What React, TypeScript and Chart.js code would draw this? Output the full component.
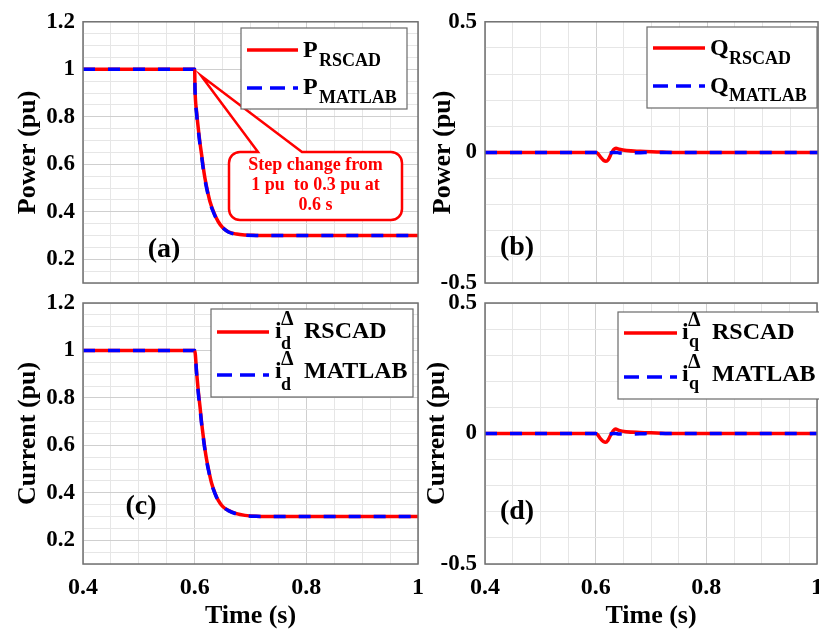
import React, { useEffect, useRef } from 'react';
import { Chart, registerables } from 'chart.js';

Chart.register(...registerables);

const FONT = '"Liberation Serif", "Times New Roman", serif';
const RED = '#ff0000';
const BLUE = '#0000ff';
const GRID_MAJOR = '#cfcfcf';
const GRID_MINOR = '#e6e6e6';
const FRAME = '#707070';

// ---------------- data ----------------
const xMajor = [0.4, 0.6, 0.8, 1.0];
const xTickLabels = ['0.4', '0.6', '0.8', '1'];

const yMajorPU = [0.2, 0.4, 0.6, 0.8, 1.0, 1.2];
const yLabelsPU = ['0.2', '0.4', '0.6', '0.8', '1', '1.2'];
const yMajorQ = [-0.5, 0, 0.5];
const yLabelsQ = ['-0.5', '0', '0.5'];

// (a) active power
const timeP = [0.4, 0.6, 0.6006, 0.6035, 0.6065, 0.6095, 0.6126, 0.6155, 0.6185, 0.623, 0.6275, 0.635, 0.6423, 0.65, 0.6602, 0.675, 0.69, 0.71, 0.73, 1.0];
const pRscad = [1.0, 1.0, 0.92, 0.82, 0.751, 0.69, 0.638, 0.585, 0.54, 0.487, 0.442, 0.393, 0.358, 0.334, 0.316, 0.306, 0.302, 0.3005, 0.3, 0.3];
const pMatlab = [1.0, 1.0, 0.915, 0.812, 0.743, 0.682, 0.630, 0.578, 0.534, 0.482, 0.438, 0.390, 0.356, 0.333, 0.315, 0.305, 0.3015, 0.3003, 0.3, 0.3];

// (b) reactive power
const timeQ = [0.4, 0.6, 0.604, 0.609, 0.614, 0.618, 0.622, 0.628, 0.632, 0.636, 0.642, 0.655, 0.68, 0.71, 0.74, 1.0];
const qRscad = [0, 0, -0.006, -0.02, -0.031, -0.034, -0.028, -0.002, 0.011, 0.016, 0.012, 0.007, 0.004, 0.002, 0, 0];
const qMatlab = [0, 0, -0.001, -0.003, -0.005, -0.004, -0.003, -0.001, 0, 0, -0.002, -0.002, -0.001, 0, 0, 0];

// (c) d-axis current
const timeId = [0.4, 0.6, 0.6037, 0.6066, 0.6096, 0.6125, 0.6155, 0.6185, 0.6216, 0.626, 0.6305, 0.6365, 0.6423, 0.65, 0.6603, 0.675, 0.69, 0.71, 0.73, 1.0];
const idRscad = [1.0, 1.0, 0.902, 0.826, 0.762, 0.695, 0.636, 0.583, 0.537, 0.485, 0.439, 0.398, 0.368, 0.343, 0.326, 0.312, 0.305, 0.301, 0.3, 0.3];
const idMatlab = [1.0, 1.0, 0.895, 0.818, 0.754, 0.688, 0.630, 0.578, 0.532, 0.481, 0.436, 0.396, 0.366, 0.342, 0.325, 0.311, 0.304, 0.3008, 0.3, 0.3];

// (d) q-axis current
const timeIq = [0.4, 0.6, 0.604, 0.609, 0.614, 0.618, 0.622, 0.628, 0.632, 0.636, 0.642, 0.655, 0.68, 0.71, 0.74, 1.0];
const iqRscad = [0, 0, -0.006, -0.021, -0.031, -0.034, -0.027, -0.002, 0.011, 0.017, 0.012, 0.007, 0.004, 0.002, 0, 0];
const iqMatlab = [0, 0, -0.001, -0.003, -0.005, -0.004, -0.003, -0.001, 0, 0, -0.002, -0.002, -0.001, 0, 0, 0];

// ---------------- layout ----------------
const CW = 832;
const CH = 632;

type Part = { text: string; x: number; y: number; size: number };
type LegendRow = { y: number; x1: number; x2: number; color: string; dash: number[]; parts: Part[] };
type PanelDef = {
  id: string;
  L: number; T: number; R: number; B: number; padLeft: number;
  yMin: number; yMax: number; yMajor: number[]; yLabels: string[]; yMinor: number;
  yTitle: string; yTitlePad: number;
  showX: boolean;
  series: { t: number[]; v: number[]; color: string; dash: number[]; order: number }[];
  legendBox: { x: number; y: number; w: number; h: number };
  legendRows: LegendRow[];
  tag: { text: string; x: number; y: number };
  callout: boolean;
};

const SUB = 18;
const MAIN = 24;

const panels: PanelDef[] = [
  {
    id: 'a', L: 83, T: 20, R: 418, B: 283, padLeft: 0,
    yMin: 0.1, yMax: 1.2, yMajor: yMajorPU, yLabels: yLabelsPU, yMinor: 0.05,
    yTitle: 'Power (pu)', yTitlePad: 13,
    showX: false,
    series: [
      { t: timeP, v: pRscad, color: RED, dash: [], order: 1 },
      { t: timeP, v: pMatlab, color: BLUE, dash: [12, 13], order: 0 },
    ],
    legendBox: { x: 241, y: 28, w: 166, h: 81 },
    legendRows: [
      { y: 50, x1: 247, x2: 298, color: RED, dash: [], parts: [
        { text: 'P', x: 303, y: 57, size: MAIN }, { text: 'RSCAD', x: 319, y: 66, size: SUB }] },
      { y: 88, x1: 247, x2: 298, color: BLUE, dash: [15, 8], parts: [
        { text: 'P', x: 303, y: 94, size: MAIN }, { text: 'MATLAB', x: 319, y: 103, size: SUB }] },
    ],
    tag: { text: '(a)', x: 164, y: 250 },
    callout: true,
  },
  {
    id: 'b', L: 485, T: 20, R: 818, B: 283, padLeft: 400,
    yMin: -0.5, yMax: 0.5, yMajor: yMajorQ, yLabels: yLabelsQ, yMinor: 0.1,
    yTitle: 'Power (pu)', yTitlePad: 28,
    showX: false,
    series: [
      { t: timeQ, v: qRscad, color: RED, dash: [], order: 1 },
      { t: timeQ, v: qMatlab, color: BLUE, dash: [12, 13], order: 0 },
    ],
    legendBox: { x: 647, y: 27, w: 170, h: 81 },
    legendRows: [
      { y: 48, x1: 653, x2: 705, color: RED, dash: [], parts: [
        { text: 'Q', x: 710, y: 55, size: MAIN }, { text: 'RSCAD', x: 729, y: 64, size: SUB }] },
      { y: 86, x1: 653, x2: 705, color: BLUE, dash: [15, 8], parts: [
        { text: 'Q', x: 710, y: 93, size: MAIN }, { text: 'MATLAB', x: 729, y: 101, size: SUB }] },
    ],
    tag: { text: '(b)', x: 517, y: 248 },
    callout: false,
  },
  {
    id: 'c', L: 83, T: 303, R: 418, B: 564, padLeft: 0,
    yMin: 0.1, yMax: 1.2, yMajor: yMajorPU, yLabels: yLabelsPU, yMinor: 0.05,
    yTitle: 'Current (pu)', yTitlePad: 13,
    showX: true,
    series: [
      { t: timeId, v: idRscad, color: RED, dash: [], order: 1 },
      { t: timeId, v: idMatlab, color: BLUE, dash: [12, 13], order: 0 },
    ],
    legendBox: { x: 211, y: 309, w: 202, h: 88 },
    legendRows: [
      { y: 332, x1: 217, x2: 269, color: RED, dash: [], parts: [
        { text: 'i', x: 275, y: 338, size: MAIN }, { text: 'Δ', x: 281, y: 325, size: 20 },
        { text: 'd', x: 281, y: 349, size: SUB }, { text: 'RSCAD', x: 304, y: 338, size: MAIN }] },
      { y: 375, x1: 217, x2: 269, color: BLUE, dash: [15, 8], parts: [
        { text: 'i', x: 275, y: 378, size: MAIN }, { text: 'Δ', x: 281, y: 365, size: 20 },
        { text: 'd', x: 281, y: 390, size: SUB }, { text: 'MATLAB', x: 304, y: 378, size: MAIN }] },
    ],
    tag: { text: '(c)', x: 141, y: 507 },
    callout: false,
  },
  {
    id: 'd', L: 485, T: 303, R: 818, B: 564, padLeft: 400,
    yMin: -0.5, yMax: 0.5, yMajor: yMajorQ, yLabels: yLabelsQ, yMinor: 0.1,
    yTitle: 'Current (pu)', yTitlePad: 22,
    showX: true,
    series: [
      { t: timeIq, v: iqRscad, color: RED, dash: [], order: 1 },
      { t: timeIq, v: iqMatlab, color: BLUE, dash: [12, 13], order: 0 },
    ],
    legendBox: { x: 618, y: 312, w: 204, h: 87 },
    legendRows: [
      { y: 333, x1: 624, x2: 677, color: RED, dash: [], parts: [
        { text: 'i', x: 682, y: 339, size: MAIN }, { text: 'Δ', x: 688, y: 326, size: 20 },
        { text: 'q', x: 689, y: 347, size: SUB }, { text: 'RSCAD', x: 712, y: 339, size: MAIN }] },
      { y: 377, x1: 624, x2: 677, color: BLUE, dash: [15, 8], parts: [
        { text: 'i', x: 682, y: 381, size: MAIN }, { text: 'Δ', x: 688, y: 368, size: 20 },
        { text: 'q', x: 689, y: 389, size: SUB }, { text: 'MATLAB', x: 712, y: 381, size: MAIN }] },
    ],
    tag: { text: '(d)', x: 517, y: 512 },
    callout: false,
  },
];

function makeTicks(min: number, max: number, step: number): number[] {
  const out: number[] = [];
  const n = Math.round((max - min) / step);
  for (let i = 0; i <= n; i++) out.push(Math.round((min + i * step) * 1e6) / 1e6);
  return out;
}

function majorIndex(list: number[], v: number): number {
  return list.findIndex((m) => Math.abs(m - v) < 1e-6);
}

function text(ctx: CanvasRenderingContext2D, s: string, x: number, y: number, size: number, color = '#000',
  align: CanvasTextAlign = 'left', baseline: CanvasTextBaseline = 'alphabetic') {
  ctx.font = `bold ${size}px ${FONT}`;
  ctx.fillStyle = color;
  ctx.textAlign = align;
  ctx.textBaseline = baseline;
  ctx.fillText(s, x, y);
}

function Panel({ def }: { def: PanelDef }) {
  const ref = useRef<HTMLCanvasElement | null>(null);
  useEffect(() => {
    const canvas = ref.current;
    if (!canvas) return;
    const xTicks = makeTicks(0.4, 1.0, 0.05);
    const yTicks = makeTicks(def.yMin, def.yMax, def.yMinor);

    const overlay = {
      id: 'overlay' + def.id,
      afterDatasetsDraw(chart: any) {
        const ctx: CanvasRenderingContext2D = chart.ctx;
        const ca = chart.chartArea;
        ctx.save();
        // frame
        ctx.strokeStyle = FRAME;
        ctx.lineWidth = 1.5;
        ctx.setLineDash([]);
        ctx.strokeRect(ca.left, ca.top, ca.right - ca.left, ca.bottom - ca.top);

        // callout
        if (def.callout) {
          const xs = chart.scales.x;
          const ys = chart.scales.y;
          const tipX = xs.getPixelForValue(0.6) + 6.5;
          const tipY = ys.getPixelForValue(1.0) + 6.5;
          const bx = 229, by = 152, bw = 173, bh = 68, r = 11, a = 258, b = 302;
          ctx.beginPath();
          ctx.moveTo(b, by);
          ctx.lineTo(bx + bw - r, by);
          ctx.arcTo(bx + bw, by, bx + bw, by + r, r);
          ctx.lineTo(bx + bw, by + bh - r);
          ctx.arcTo(bx + bw, by + bh, bx + bw - r, by + bh, r);
          ctx.lineTo(bx + r, by + bh);
          ctx.arcTo(bx, by + bh, bx, by + bh - r, r);
          ctx.lineTo(bx, by + r);
          ctx.arcTo(bx, by, bx + r, by, r);
          ctx.lineTo(a, by);
          ctx.lineTo(tipX, tipY);
          ctx.closePath();
          ctx.fillStyle = '#ffffff';
          ctx.fill();
          ctx.strokeStyle = RED;
          ctx.lineWidth = 2.5;
          ctx.lineJoin = 'miter';
          ctx.stroke();
          const cx = bx + bw / 2;
          text(ctx, 'Step change from', cx, 165, 18, RED, 'center', 'middle');
          text(ctx, '1 pu  to 0.3 pu at', cx, 185, 18, RED, 'center', 'middle');
          text(ctx, '0.6 s', cx, 205, 18, RED, 'center', 'middle');
        }

        // legend
        const lb = def.legendBox;
        ctx.fillStyle = '#ffffff';
        ctx.fillRect(lb.x, lb.y, lb.w, lb.h);
        ctx.strokeStyle = '#6a6a6a';
        ctx.lineWidth = 1.2;
        ctx.strokeRect(lb.x, lb.y, lb.w, lb.h);
        for (const row of def.legendRows) {
          ctx.beginPath();
          ctx.setLineDash(row.dash);
          ctx.strokeStyle = row.color;
          ctx.lineWidth = 3.5;
          ctx.lineCap = 'butt';
          ctx.moveTo(row.x1, row.y);
          ctx.lineTo(row.x2, row.y);
          ctx.stroke();
          ctx.setLineDash([]);
          for (const p of row.parts) text(ctx, p.text, p.x, p.y, p.size);
        }

        // panel tag
        text(ctx, def.tag.text, def.tag.x, def.tag.y, 28, '#000', 'center', 'middle');
        ctx.restore();
      },
    };

    const chart = new Chart(canvas, {
      type: 'line',
      data: {
        datasets: def.series.map((s) => ({
          data: s.t.map((t, i) => ({ x: t, y: s.v[i] })),
          borderColor: s.color,
          backgroundColor: s.color,
          borderWidth: 3.5,
          borderDash: s.dash,
          pointRadius: 0,
          fill: false,
          cubicInterpolationMode: 'monotone' as const,
          order: s.order,
        })),
      },
      options: {
        animation: false,
        responsive: false,
        maintainAspectRatio: false,
        events: [],
        layout: { padding: { left: def.padLeft, top: def.T, right: CW - def.R, bottom: 0 } },
        plugins: { legend: { display: false }, tooltip: { enabled: false } },
        scales: {
          x: {
            type: 'linear',
            min: 0.4,
            max: 1.0,
            afterBuildTicks: (scale: any) => { scale.ticks = xTicks.map((v) => ({ value: v })); },
            afterFit: (scale: any) => { scale.height = CH - def.B; },
            ticks: {
              display: def.showX,
              autoSkip: false,
              maxRotation: 0,
              padding: 9,
              color: '#000',
              font: { family: FONT, size: 24, weight: 'bold' },
              callback: (v: any) => { const i = majorIndex(xMajor, Number(v)); return i >= 0 ? xTickLabels[i] : ''; },
            },
            grid: {
              drawTicks: false,
              lineWidth: 1,
              color: (c: any) => (c.tick && majorIndex(xMajor, c.tick.value) >= 0 ? GRID_MAJOR : GRID_MINOR),
            },
            border: { display: false },
            title: {
              display: def.showX,
              text: 'Time (s)',
              color: '#000',
              padding: { top: 0, bottom: 0 },
              font: { family: FONT, size: 26, weight: 'bold' },
            },
          },
          y: {
            type: 'linear',
            min: def.yMin,
            max: def.yMax,
            afterBuildTicks: (scale: any) => { scale.ticks = yTicks.map((v) => ({ value: v })); },
            afterFit: (scale: any) => { scale.width = def.L - def.padLeft; },
            ticks: {
              autoSkip: false,
              padding: 8,
              color: '#000',
              font: { family: FONT, size: 23, weight: 'bold' },
              callback: (v: any) => { const i = majorIndex(def.yMajor, Number(v)); return i >= 0 ? def.yLabels[i] : ''; },
            },
            grid: {
              drawTicks: false,
              lineWidth: 1,
              color: (c: any) => (c.tick && majorIndex(def.yMajor, c.tick.value) >= 0 ? GRID_MAJOR : GRID_MINOR),
            },
            border: { display: false },
            title: {
              display: true,
              text: def.yTitle,
              color: '#000',
              padding: { top: def.yTitlePad, bottom: 0 },
              font: { family: FONT, size: 26, weight: 'bold' },
            },
          },
        },
      } as any,
      plugins: [overlay],
    });
    return () => chart.destroy();
  }, [def]);

  return (
    <canvas
      ref={ref}
      width={CW}
      height={CH}
      style={{ position: 'absolute', left: 0, top: 0, width: CW, height: CH }}
    />
  );
}

export default function App() {
  return (
    <div style={{ position: 'absolute', left: 0, top: 0, width: 819, height: 632, overflow: 'hidden', background: '#fff' }}>
      {panels.map((p) => (
        <Panel key={p.id} def={p} />
      ))}
    </div>
  );
}
